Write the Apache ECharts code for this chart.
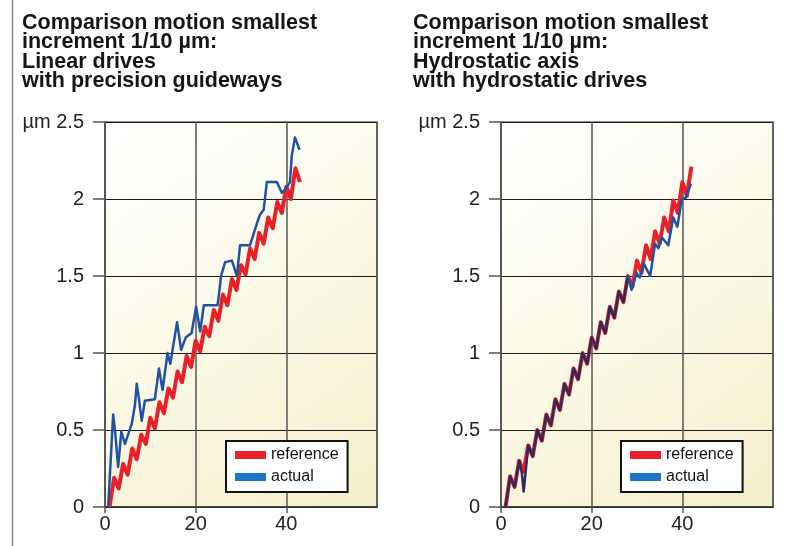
<!DOCTYPE html>
<html>
<head>
<meta charset="utf-8">
<script src="https://cdn.jsdelivr.net/npm/echarts@6/dist/echarts.min.js"></script>
<style>
  html, body { margin: 0; padding: 0; background: #fff; }
  #chart { width: 795px; height: 546px; }
</style>
</head>
<body>
<div id="chart"></div>
<script>
const titles = [
  'Comparison motion smallest\nincrement 1/10 µm:\nLinear drives\nwith precision guideways',
  'Comparison motion smallest\nincrement 1/10 µm:\nHydrostatic axis\nwith hydrostatic drives'
]
const seriesNames = ['reference', 'actual']
const yUnit = 'µm'

// [x, µm]
const leftReference = [
  [1, 0.00], [2, 0.19], [3, 0.12], [4, 0.28], [5, 0.21], [6, 0.38], [7, 0.31], [8, 0.47],
  [9, 0.41], [10, 0.58], [11, 0.51], [12, 0.68], [13, 0.61], [14, 0.77], [15, 0.71], [16, 0.88],
  [17, 0.81], [18, 0.98], [19, 0.91], [20, 1.08], [21, 1.01], [22, 1.17], [23, 1.11], [24, 1.28],
  [25, 1.21], [26, 1.38], [27, 1.31], [28, 1.48], [29, 1.41], [30, 1.57], [31, 1.51], [32, 1.68],
  [33, 1.61], [34, 1.78], [35, 1.71], [36, 1.88], [37, 1.81], [38, 1.98], [39, 1.91], [40, 2.08],
  [41, 2.00], [42, 2.20], [43, 2.11]
]
const leftActual = [
  [0.7, 0], [1.8, 0.6], [2.2, 0.5], [2.9, 0.26], [3.6, 0.49], [4.4, 0.41], [5.1, 0.47], [5.9, 0.54],
  [6.6, 0.66], [7, 0.8], [7.5, 0.7], [8.1, 0.56], [8.8, 0.69], [11, 0.7], [11.9, 0.9], [12.7, 0.76],
  [13.8, 1.0], [14.4, 0.93], [15.9, 1.2], [16.8, 1.02], [17.8, 1.1], [19.1, 1.13], [20.1, 1.3],
  [21, 1.14], [21.8, 1.31], [24.8, 1.31], [25.1, 1.37], [25.6, 1.5], [26.5, 1.59], [28, 1.6],
  [29.1, 1.5], [29.8, 1.7], [32, 1.7], [33.5, 1.84], [34.2, 1.9], [35, 1.93], [35.7, 2.11],
  [37.9, 2.11], [39, 2.04], [39.7, 2.06], [40.8, 2.11], [41.2, 2.28], [41.9, 2.4], [42.9, 2.32]
]
const rightReference = [
  [1, 0.00], [2, 0.20], [3, 0.13], [4, 0.30], [5, 0.23], [6, 0.40], [7, 0.33], [8, 0.50],
  [9, 0.43], [10, 0.60], [11, 0.53], [12, 0.70], [13, 0.63], [14, 0.80], [15, 0.73], [16, 0.90],
  [17, 0.83], [18, 1.00], [19, 0.93], [20, 1.10], [21, 1.03], [22, 1.20], [23, 1.13], [24, 1.30],
  [25, 1.23], [26, 1.40], [27, 1.33], [28, 1.50], [29, 1.43], [30, 1.60], [31, 1.52], [32, 1.70],
  [33, 1.61], [34, 1.79], [35, 1.71], [36, 1.88], [37, 1.79], [38, 1.99], [39, 1.91], [40, 2.11],
  [41, 2.02], [42, 2.21]
]
const rightActual = [
  [1, 0.00], [2, 0.20], [3, 0.13], [4, 0.30], [4.6, 0.22], [5, 0.10], [6, 0.40], [7, 0.33],
  [8, 0.50], [9, 0.43], [10, 0.60], [11, 0.53], [12, 0.70], [13, 0.63], [14, 0.80], [15, 0.73],
  [16, 0.90], [17, 0.83], [18, 1.00], [19, 0.93], [20, 1.10], [21, 1.03], [22, 1.20], [23, 1.13],
  [24, 1.30], [25, 1.23], [26, 1.40], [27, 1.33], [28, 1.50], [28.8, 1.41], [29.9, 1.52],
  [30.6, 1.49], [31.5, 1.58], [32.9, 1.5], [34, 1.71], [34.7, 1.68], [35.5, 1.75], [36.9, 1.7],
  [38, 1.88], [38.9, 1.82], [39.9, 2.0], [40.8, 2.01], [41.9, 2.1]
]
// where the actual trace stops lying on top of the reference
const overlapEndX = 28

const FONT = '"Liberation Sans", Arial, Helvetica, sans-serif'
const RED = '#e8202a'
const BLUE = '#1f52a3'
const BLUE_SWATCH = '#1c74c2'
const OVERLAP = '#2b2a5a'

const chart = echarts.init(document.getElementById('chart'))

const plotBg = () => new echarts.graphic.LinearGradient(0, 0, 1, 1, [
  { offset: 0, color: '#ffffff' },
  { offset: 0.45, color: '#fcfae8' },
  { offset: 1, color: '#f3eecb' }
])

const grids = [
  { left: 105, top: 122, width: 272, height: 385 },
  { left: 501, top: 122, width: 272, height: 385 }
].map(g => Object.assign(g, {
  show: true, borderColor: '#666', borderWidth: 1.5, backgroundColor: plotBg()
}))

const xAxes = [0, 1].map(i => ({
  type: 'value', gridIndex: i, min: 0, max: 60, interval: 20,
  axisLine: { lineStyle: { color: '#333', width: 1.5 } },
  axisTick: { show: true, length: 6, lineStyle: { color: '#555', width: 1.5 } },
  axisLabel: { margin: 7, fontSize: 20, color: '#222', fontFamily: FONT, showMaxLabel: false },
  splitLine: { show: true, lineStyle: { color: '#555', width: 1.5 } }
}))

const yAxes = [0, 1].map(i => ({
  type: 'value', gridIndex: i, min: 0, max: 2.5, interval: 0.5,
  axisLine: { show: true, lineStyle: { color: '#555', width: 1.5 } },
  axisTick: { show: true, length: 12, lineStyle: { color: '#555', width: 1.5 } },
  axisLabel: {
    margin: 21, fontSize: 20, color: '#222', fontFamily: FONT,
    formatter: v => (v === 2.5 ? yUnit + ' 2.5' : String(v))
  },
  splitLine: { show: true, lineStyle: { color: '#1a1a1a', width: 1.2 } }
}))

const lineSeries = (name, data, i, color, width) => ({
  name, type: 'line', xAxisIndex: i, yAxisIndex: i, data,
  showSymbol: false, symbol: 'none', animation: false,
  lineStyle: { color, width, join: 'round' },
  itemStyle: { color }
})

const legends = [226, 621].map(left => ({
  left, top: 441, orient: 'vertical', icon: 'rect',
  itemWidth: 31, itemHeight: 8, itemGap: 6,
  padding: [6, 9, 7, 9],
  backgroundColor: '#fff', borderColor: '#111', borderWidth: 2, borderRadius: 0,
  selectedMode: false,
  textStyle: { fontSize: 16, color: '#111', fontFamily: FONT },
  data: [
    { name: seriesNames[0], itemStyle: { color: RED } },
    { name: seriesNames[1], itemStyle: { color: BLUE_SWATCH } }
  ]
}))

const rightActualOverlap = rightActual.filter(p => p[0] <= overlapEndX)
const rightActualApart = rightActual.filter(p => p[0] >= overlapEndX)

const option = {
  animation: false,
  backgroundColor: '#fff',
  title: [22, 413].map((left, i) => ({
    text: titles[i], left, top: 13, padding: 0,
    textStyle: { fontSize: 21.5, fontWeight: 'bold', lineHeight: 19.5, color: '#151515', fontFamily: FONT }
  })),
  grid: grids,
  xAxis: xAxes,
  yAxis: yAxes,
  legend: legends,
  graphic: [{
    type: 'line', shape: { x1: 12.5, y1: 0, x2: 12.5, y2: 546 },
    style: { stroke: '#888', lineWidth: 1.5 }
  }],
  series: [
    lineSeries(seriesNames[0], leftReference, 0, RED, 4),
    lineSeries(seriesNames[1], leftActual, 0, BLUE, 2.5),
    lineSeries(seriesNames[0], rightReference, 1, RED, 4),
    lineSeries(seriesNames[1], rightActualOverlap, 1, OVERLAP, 2.5),
    lineSeries(seriesNames[1], rightActualApart, 1, BLUE, 2.5)
  ]
}

chart.setOption(option)
</script>
</body>
</html>
